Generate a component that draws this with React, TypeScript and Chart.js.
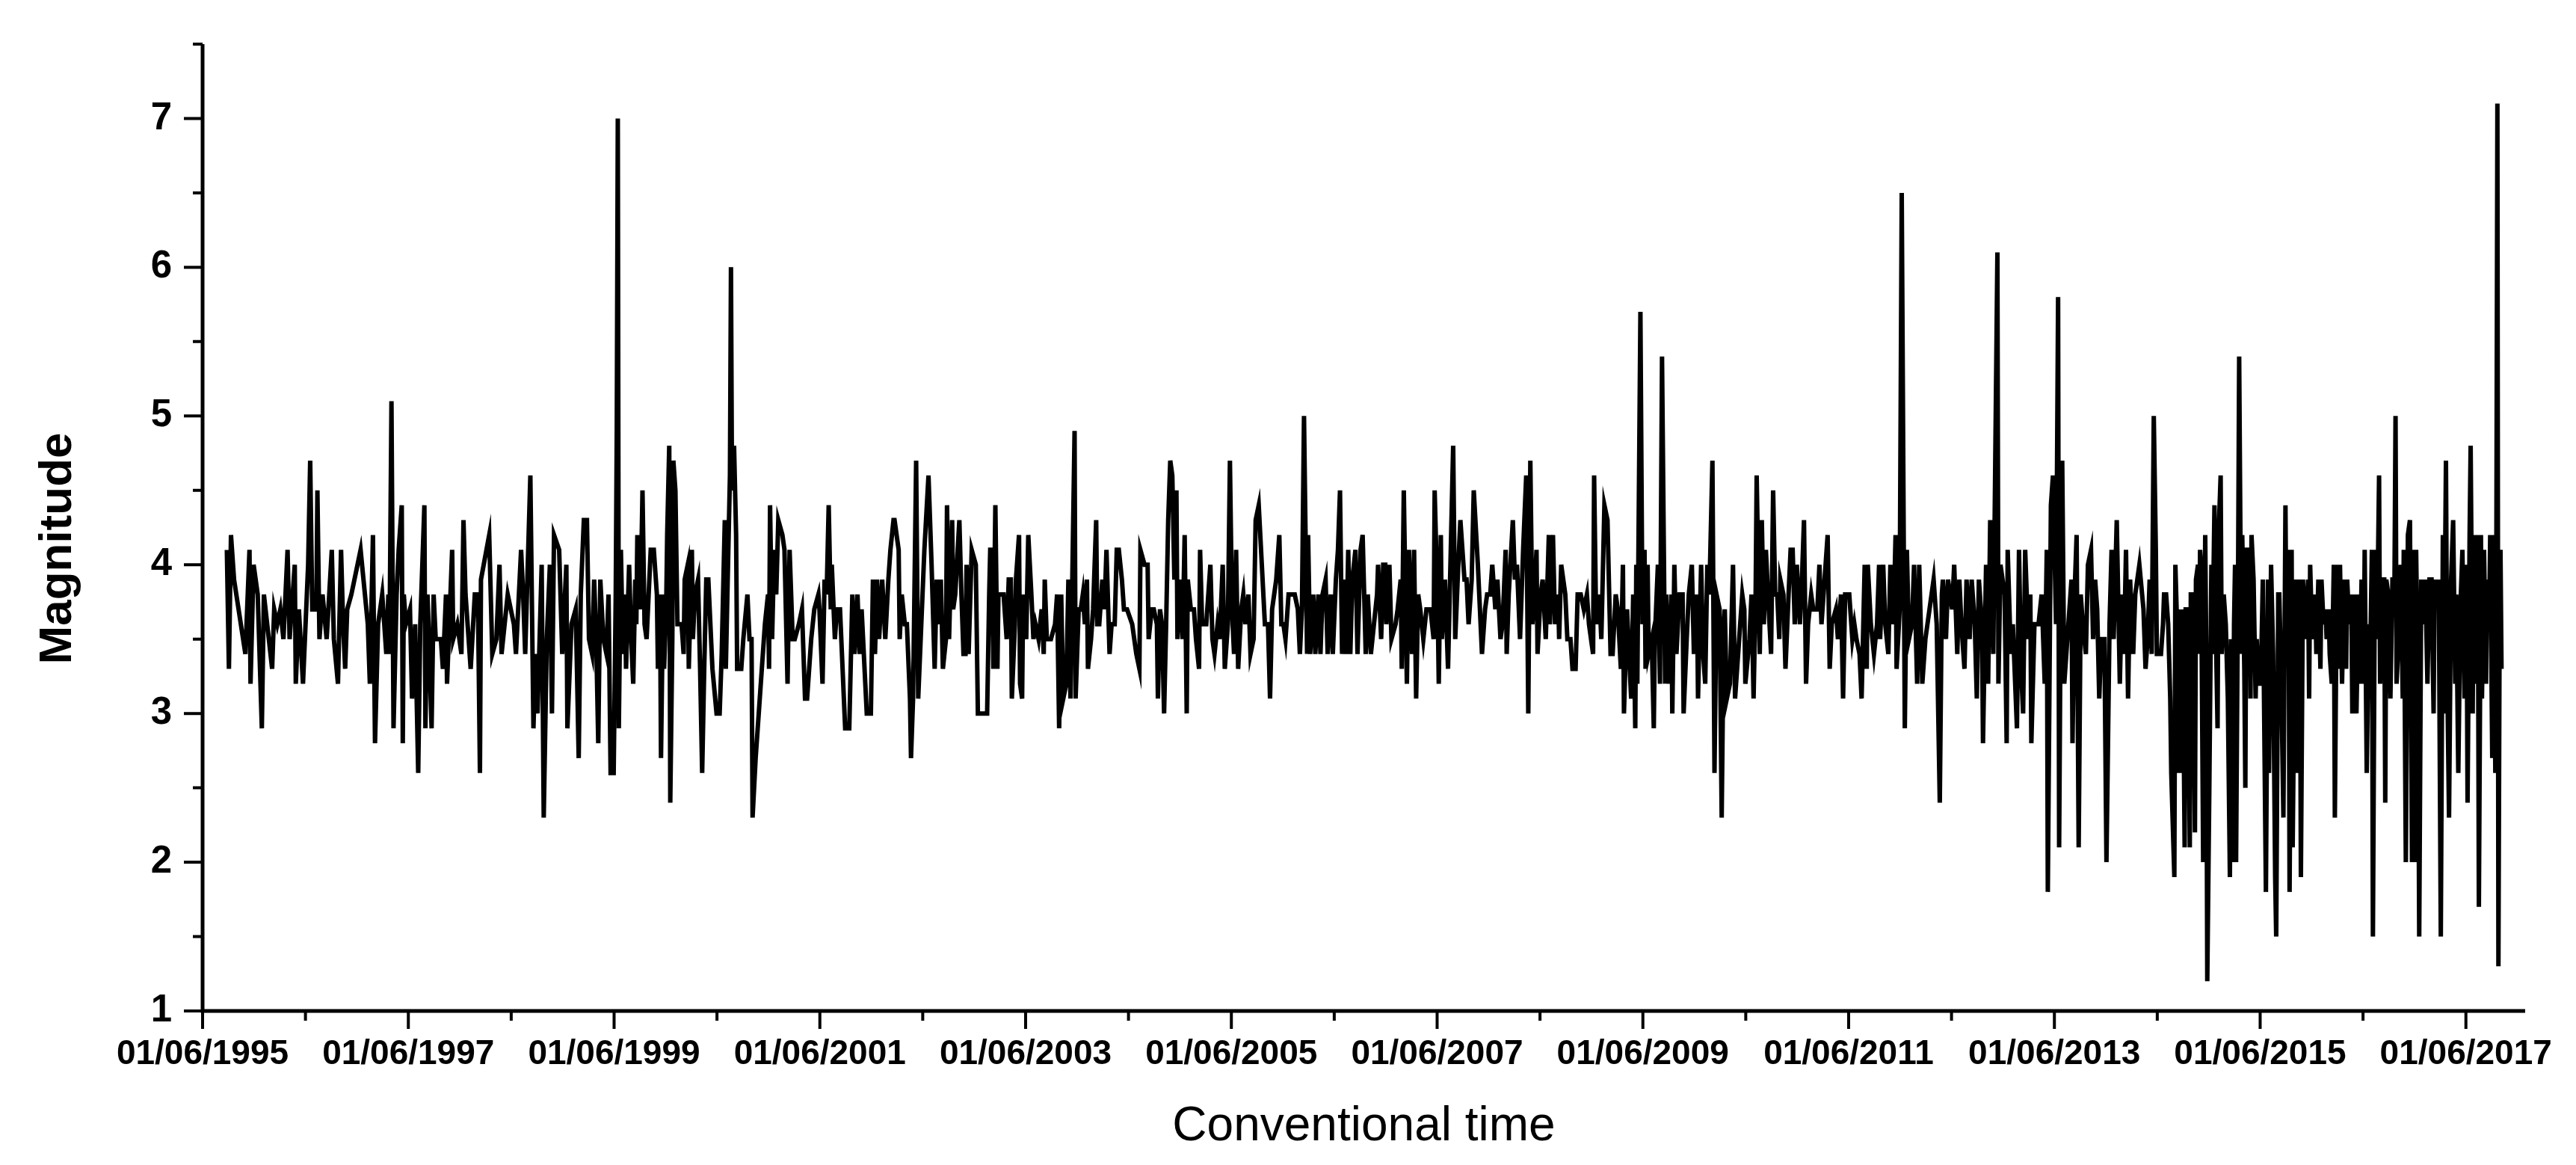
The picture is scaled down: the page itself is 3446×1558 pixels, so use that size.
import React, { useEffect, useRef } from 'react';
import { Chart, registerables } from 'chart.js';

Chart.register(...registerables);

// ---- Data: event time (decimal year) and magnitude ----
const years1995 = [
  1995.65, 1995.67, 1995.69, 1995.72, 1995.83, 1995.87, 1995.88, 1995.91, 1995.95, 1995.99,
  1996.01, 1996.09, 1996.11, 1996.14, 1996.17, 1996.20, 1996.24, 1996.26, 1996.31, 1996.32,
  1996.35, 1996.39, 1996.44, 1996.46, 1996.48, 1996.52, 1996.53, 1996.55, 1996.58, 1996.62,
  1996.67, 1996.69, 1996.73, 1996.76, 1996.78, 1996.80, 1996.82, 1996.86, 1996.95, 1997.02,
  1997.04, 1997.07, 1997.09, 1997.12, 1997.16, 1997.20, 1997.22, 1997.23, 1997.25, 1997.27,
  1997.30, 1997.32, 1997.35, 1997.36, 1997.37, 1997.39, 1997.43, 1997.45, 1997.48, 1997.51,
  1997.53, 1997.57, 1997.58, 1997.60, 1997.61, 1997.64, 1997.66, 1997.68, 1997.73, 1997.75,
  1997.78, 1997.79, 1997.84, 1997.85, 1997.89, 1997.93, 1997.95, 1997.97, 1998.02, 1998.06,
  1998.09, 1998.11, 1998.12, 1998.20, 1998.23, 1998.27, 1998.30, 1998.32, 1998.38, 1998.44,
  1998.46, 1998.51, 1998.53, 1998.55, 1998.60, 1998.63, 1998.65, 1998.67, 1998.71, 1998.73,
  1998.76, 1998.79, 1998.81, 1998.83, 1998.88, 1998.91, 1998.95, 1998.96, 1999.00, 1999.04,
  1999.05, 1999.07, 1999.09, 1999.12, 1999.15, 1999.17,
];
const mags1995 = [
  4.1, 3.3, 4.2, 3.9, 3.4, 4.1, 3.2, 4.0, 3.8, 2.9,
  3.8, 3.3, 3.7, 3.6, 3.7, 3.5, 4.1, 3.5, 4.0, 3.2,
  3.7, 3.2, 4.0, 4.7, 3.7, 3.7, 4.5, 3.5, 3.8, 3.5,
  4.1, 3.5, 3.2, 4.1, 3.6, 3.3, 3.7, 3.8, 4.1, 3.6,
  3.2, 4.2, 2.8, 3.6, 3.8, 3.4, 3.8, 3.4, 5.1, 2.9,
  3.8, 4.1, 4.4, 2.8, 3.8, 3.6, 3.7, 3.1, 3.6, 2.6,
  3.6, 4.4, 2.9, 3.8, 3.6, 2.9, 3.8, 3.5, 3.5, 3.3,
  3.8, 3.2, 4.1, 3.5, 3.6, 3.4, 4.3, 3.8, 3.3, 3.8,
  3.8, 2.6, 3.9, 4.2, 3.4, 3.5, 4.0, 3.4, 3.8, 3.6,
  3.4, 4.1, 3.8, 3.4, 4.6, 2.9, 3.4, 3.0, 4.0, 2.3,
  3.5, 4.0, 3.0, 4.2, 4.1, 3.4, 4.0, 2.9, 3.6, 3.7,
  3.4, 2.7, 3.8, 4.3, 4.3, 3.5,
];

const years1999 = [
  1999.20, 1999.22, 1999.24, 1999.26, 1999.28, 1999.31, 1999.34, 1999.36, 1999.38, 1999.41,
  1999.43, 1999.44, 1999.45, 1999.46, 1999.48, 1999.50, 1999.52, 1999.53, 1999.56, 1999.58,
  1999.60, 1999.62, 1999.63, 1999.64, 1999.67, 1999.69, 1999.71, 1999.73, 1999.77, 1999.80,
  1999.83, 1999.84, 1999.86, 1999.87, 1999.89, 1999.90, 1999.92, 1999.93, 1999.95, 1999.96,
  1999.98, 1999.99, 2000.01, 2000.03, 2000.07, 2000.09, 2000.10, 2000.13, 2000.14, 2000.17,
  2000.18, 2000.20, 2000.23, 2000.25, 2000.27, 2000.29, 2000.31, 2000.33, 2000.37, 2000.41,
  2000.44, 2000.46, 2000.49, 2000.50, 2000.54, 2000.55, 2000.56, 2000.58, 2000.60, 2000.61,
  2000.65, 2000.67, 2000.71, 2000.73, 2000.75, 2000.76, 2000.79, 2000.83, 2000.88, 2000.91,
  2000.92, 2000.93, 2000.95, 2000.97, 2000.99, 2001.01, 2001.05, 2001.07, 2001.10, 2001.12,
  2001.15, 2001.17, 2001.21, 2001.24, 2001.27, 2001.29, 2001.33, 2001.36, 2001.40, 2001.41,
  2001.44, 2001.46, 2001.48, 2001.50, 2001.52, 2001.53, 2001.56, 2001.58, 2001.61, 2001.66,
  2001.70, 2001.73, 2001.75, 2001.78, 2001.80, 2001.82, 2001.87, 2001.91, 2001.93, 2001.95,
  2001.97, 2001.99, 2002.02, 2002.05, 2002.08, 2002.10, 2002.13, 2002.14, 2002.18, 2002.19,
  2002.21, 2002.24, 2002.26, 2002.29, 2002.30, 2002.32, 2002.35, 2002.37, 2002.40, 2002.43,
  2002.47, 2002.50, 2002.53, 2002.55, 2002.56, 2002.59, 2002.61, 2002.64, 2002.65, 2002.67,
  2002.70, 2002.71, 2002.73, 2002.77, 2002.79, 2002.81, 2002.83, 2002.84, 2002.86, 2002.89,
  2002.93, 2002.95,
];
const mags1999 = [
  3.4, 3.9, 3.5, 2.8, 3.9, 3.5, 3.4, 3.8, 2.6, 2.6,
  3.8, 4.9, 7.0, 2.9, 4.1, 3.4, 3.8, 3.3, 4.0, 3.5,
  3.2, 3.9, 3.6, 4.2, 3.7, 4.5, 3.6, 3.5, 4.1, 4.1,
  3.8, 3.3, 3.8, 2.7, 3.8, 3.3, 3.7, 4.2, 4.8, 2.4,
  3.5, 4.7, 4.5, 3.6, 3.6, 3.4, 3.9, 4.0, 3.3, 4.1,
  3.5, 3.8, 3.9, 3.3, 2.6, 3.3, 3.9, 3.9, 3.3, 3.0,
  3.0, 3.4, 4.3, 3.3, 4.6, 6.0, 4.5, 4.8, 4.2, 3.3,
  3.3, 3.5, 3.8, 3.5, 3.5, 2.3, 2.7, 3.1, 3.6, 3.8,
  3.3, 4.4, 3.5, 4.1, 3.8, 4.3, 4.2, 4.1, 3.2, 4.1,
  3.5, 3.5, 3.6, 3.7, 3.1, 3.1, 3.5, 3.7, 3.8, 3.7,
  3.2, 3.9, 3.8, 4.4, 3.7, 4.0, 3.5, 3.7, 3.7, 2.9,
  2.9, 3.8, 3.4, 3.8, 3.4, 3.7, 3.0, 3.0, 3.9, 3.4,
  3.9, 3.5, 3.9, 3.5, 3.9, 4.1, 4.3, 4.3, 4.1, 3.5,
  3.8, 3.6, 3.6, 3.1, 2.7, 3.1, 4.7, 3.1, 3.6, 4.1,
  4.6, 4.0, 3.3, 3.9, 3.6, 3.9, 3.3, 3.5, 4.4, 3.5,
  4.3, 3.7, 3.8, 4.3, 3.8, 3.4, 3.4, 4.0, 3.4, 4.1,
  4.0, 3.0,
];

const years2003 = [
  2002.98, 2003.02, 2003.04, 2003.06, 2003.07, 2003.09, 2003.10, 2003.12, 2003.14, 2003.15,
  2003.18, 2003.20, 2003.23, 2003.25, 2003.27, 2003.28, 2003.31, 2003.32, 2003.35, 2003.36,
  2003.38, 2003.39, 2003.42, 2003.44, 2003.47, 2003.49, 2003.51, 2003.54, 2003.57, 2003.59,
  2003.60, 2003.62, 2003.66, 2003.70, 2003.72, 2003.74, 2003.76, 2003.78, 2003.81, 2003.83,
  2003.85, 2003.89, 2003.90, 2003.93, 2003.95, 2003.97, 2003.99, 2004.01, 2004.02, 2004.05,
  2004.07, 2004.10, 2004.11, 2004.13, 2004.16, 2004.18, 2004.20, 2004.23, 2004.25, 2004.28,
  2004.30, 2004.32, 2004.35, 2004.37, 2004.40, 2004.45, 2004.49, 2004.52, 2004.53, 2004.57,
  2004.60, 2004.61, 2004.64, 2004.66, 2004.69, 2004.70, 2004.72, 2004.74, 2004.76, 2004.78,
  2004.80, 2004.82, 2004.84, 2004.86, 2004.88, 2004.89, 2004.92, 2004.94, 2004.96, 2004.98,
  2004.99, 2005.02, 2005.05, 2005.07, 2005.10, 2005.11, 2005.13, 2005.17, 2005.21, 2005.23,
  2005.25, 2005.28, 2005.30, 2005.33, 2005.35, 2005.38, 2005.40, 2005.42, 2005.44, 2005.46,
  2005.48, 2005.51, 2005.53, 2005.55, 2005.58, 2005.60, 2005.63, 2005.65, 2005.68, 2005.71,
  2005.74, 2005.77, 2005.79, 2005.81, 2005.83, 2005.85, 2005.88, 2005.90, 2005.92, 2005.94,
  2005.97, 2006.00, 2006.03, 2006.06, 2006.08, 2006.10, 2006.12, 2006.15, 2006.16, 2006.18,
  2006.21, 2006.23, 2006.26, 2006.28, 2006.30, 2006.33, 2006.35, 2006.38, 2006.40, 2006.43,
  2006.45, 2006.47, 2006.49, 2006.51, 2006.53, 2006.55, 2006.57, 2006.59, 2006.62, 2006.64,
  2006.67, 2006.69, 2006.72, 2006.74,
];
const mags2003 = [
  3.0, 3.0, 3.0, 3.8, 4.1, 4.1, 3.3, 4.4, 3.3, 3.8,
  3.8, 3.8, 3.5, 3.9, 3.9, 3.1, 3.6, 3.9, 4.2, 3.2,
  3.1, 3.8, 3.5, 4.2, 3.8, 3.5, 3.6, 3.5, 3.7, 3.4,
  3.9, 3.5, 3.5, 3.6, 3.8, 2.9, 3.8, 3.1, 3.2, 3.9,
  3.1, 4.9, 3.1, 3.7, 3.7, 3.8, 3.6, 3.9, 3.3, 3.5,
  3.7, 4.3, 3.6, 3.6, 3.9, 3.7, 4.1, 3.4, 3.6, 3.6,
  4.1, 4.1, 3.9, 3.7, 3.7, 3.6, 3.4, 3.3, 4.1, 4.0,
  4.0, 3.5, 3.7, 3.7, 3.6, 3.1, 3.7, 3.6, 3.0, 3.6,
  4.3, 4.7, 4.6, 3.9, 4.5, 3.5, 3.9, 3.5, 4.2, 3.0,
  3.9, 3.7, 3.7, 3.5, 3.3, 4.1, 3.6, 3.6, 4.0, 3.5,
  3.4, 3.6, 3.5, 4.0, 3.3, 3.6, 4.7, 3.7, 3.4, 4.1,
  3.3, 3.7, 3.8, 3.6, 3.8, 3.4, 3.5, 4.3, 4.4, 4.0,
  3.6, 3.6, 3.1, 3.7, 3.8, 3.9, 4.2, 3.6, 3.6, 3.5,
  3.8, 3.8, 3.8, 3.7, 3.4, 3.7, 5.0, 3.4, 4.2, 3.4,
  3.8, 3.4, 3.8, 3.4, 3.8, 3.9, 3.4, 3.8, 3.4, 3.9,
  4.1, 4.5, 3.4, 3.9, 3.4, 4.1, 3.4, 3.9, 4.1, 3.4,
  4.1, 4.2, 3.4, 3.8,
];

const years2007 = [
  2006.77, 2006.80, 2006.83, 2006.84, 2006.87, 2006.89, 2006.91, 2006.92, 2006.95, 2006.97,
  2007.01, 2007.03, 2007.06, 2007.07, 2007.09, 2007.12, 2007.14, 2007.17, 2007.19, 2007.21,
  2007.23, 2007.25, 2007.28, 2007.31, 2007.35, 2007.38, 2007.39, 2007.42, 2007.43, 2007.45,
  2007.46, 2007.49, 2007.52, 2007.54, 2007.57, 2007.59, 2007.62, 2007.64, 2007.68, 2007.70,
  2007.72, 2007.75, 2007.77, 2007.81, 2007.83, 2007.85, 2007.88, 2007.90, 2007.93, 2007.95,
  2007.98, 2008.00, 2008.03, 2008.05, 2008.08, 2008.09, 2008.11, 2008.15, 2008.17, 2008.19,
  2008.22, 2008.25, 2008.28, 2008.30, 2008.32, 2008.34, 2008.36, 2008.38, 2008.39, 2008.42,
  2008.44, 2008.47, 2008.50, 2008.51, 2008.54, 2008.56, 2008.59, 2008.60, 2008.62, 2008.66,
  2008.68, 2008.71, 2008.73, 2008.76, 2008.78, 2008.81, 2008.84, 2008.87, 2008.89, 2008.93,
  2008.94, 2008.96, 2008.99, 2009.01, 2009.04, 2009.07, 2009.10, 2009.12, 2009.15, 2009.17,
  2009.20, 2009.22, 2009.23, 2009.26, 2009.28, 2009.30, 2009.32, 2009.34, 2009.35, 2009.36,
  2009.39, 2009.41, 2009.43, 2009.44, 2009.46, 2009.47, 2009.50, 2009.52, 2009.53, 2009.56,
  2009.58, 2009.60, 2009.63, 2009.64, 2009.67, 2009.69, 2009.70, 2009.72, 2009.74, 2009.77,
  2009.80, 2009.81, 2009.84, 2009.86, 2009.89, 2009.91, 2009.94, 2009.95, 2009.98, 2010.00,
  2010.02, 2010.04, 2010.06, 2010.09, 2010.11, 2010.13, 2010.16, 2010.18, 2010.20, 2010.21,
  2010.23, 2010.26, 2010.29, 2010.31, 2010.32, 2010.36, 2010.38, 2010.40, 2010.41, 2010.45,
  2010.47, 2010.49, 2010.51, 2010.52,
];
const mags2007 = [
  3.4, 3.6, 3.8, 4.0, 3.5, 4.0, 4.0, 3.6, 4.0, 3.5,
  3.6, 3.7, 3.9, 3.3, 4.5, 3.2, 4.1, 3.4, 4.1, 3.1,
  3.8, 3.7, 3.5, 3.7, 3.7, 3.5, 4.5, 3.7, 3.2, 4.2,
  3.5, 3.9, 3.3, 3.9, 4.8, 3.5, 4.0, 4.3, 3.9, 3.9,
  3.6, 3.9, 4.5, 4.0, 3.7, 3.4, 3.7, 3.8, 3.8, 4.0,
  3.7, 3.9, 3.5, 3.6, 4.1, 3.4, 3.8, 4.3, 3.9, 4.0,
  3.5, 4.1, 4.6, 3.0, 4.7, 3.6, 3.8, 4.1, 3.4, 3.8,
  3.9, 3.5, 4.2, 3.6, 4.2, 3.6, 3.8, 3.5, 4.0, 3.8,
  3.5, 3.5, 3.3, 3.3, 3.8, 3.8, 3.7, 3.8, 3.6, 3.4,
  4.6, 3.6, 3.8, 3.5, 4.4, 4.3, 3.4, 3.4, 3.8, 3.7,
  3.3, 4.0, 3.0, 3.7, 3.4, 3.1, 3.8, 2.9, 4.0, 3.2,
  5.7, 3.6, 4.1, 3.3, 4.0, 3.4, 3.5, 2.9, 3.5, 4.0,
  3.2, 5.4, 3.2, 3.8, 3.2, 3.8, 3.0, 4.0, 3.4, 3.8,
  3.8, 3.0, 3.5, 3.8, 4.0, 3.4, 3.8, 3.1, 4.0, 3.4,
  3.2, 4.0, 3.8, 4.7, 2.6, 3.8, 3.7, 2.3, 3.6, 3.7,
  3.1, 3.2, 4.0, 3.1, 3.2, 3.6, 3.8, 3.7, 3.2, 3.5,
  3.8, 3.1, 3.8, 4.6,
];

const years2011 = [
  2010.55, 2010.57, 2010.59, 2010.61, 2010.63, 2010.66, 2010.68, 2010.70, 2010.72, 2010.74,
  2010.75, 2010.78, 2010.80, 2010.83, 2010.85, 2010.87, 2010.89, 2010.91, 2010.94, 2010.96,
  2010.98, 2011.00, 2011.02, 2011.05, 2011.07, 2011.11, 2011.13, 2011.15, 2011.17, 2011.21,
  2011.23, 2011.25, 2011.29, 2011.31, 2011.34, 2011.36, 2011.38, 2011.42, 2011.45, 2011.47,
  2011.49, 2011.52, 2011.54, 2011.57, 2011.59, 2011.60, 2011.63, 2011.66, 2011.69, 2011.71,
  2011.72, 2011.75, 2011.77, 2011.80, 2011.82, 2011.85, 2011.87, 2011.88, 2011.91, 2011.93,
  2011.96, 2011.98, 2012.00, 2012.03, 2012.05, 2012.08, 2012.10, 2012.13, 2012.16, 2012.20,
  2012.24, 2012.27, 2012.30, 2012.32, 2012.33, 2012.36, 2012.38, 2012.42, 2012.44, 2012.47,
  2012.49, 2012.51, 2012.54, 2012.56, 2012.59, 2012.61, 2012.64, 2012.66, 2012.68, 2012.71,
  2012.72, 2012.75, 2012.77, 2012.79, 2012.82, 2012.86, 2012.87, 2012.89, 2012.93, 2012.95,
  2012.96, 2012.99, 2013.01, 2013.05, 2013.07, 2013.09, 2013.11, 2013.13, 2013.16, 2013.18,
  2013.19, 2013.22, 2013.26, 2013.29, 2013.32, 2013.34, 2013.35, 2013.38, 2013.40, 2013.43,
  2013.45, 2013.46, 2013.47, 2013.49, 2013.51, 2013.53, 2013.56, 2013.58, 2013.59, 2013.61,
  2013.63, 2013.65, 2013.67, 2013.69, 2013.72, 2013.74, 2013.77, 2013.79, 2013.81, 2013.83,
  2013.85, 2013.87, 2013.90, 2013.92, 2013.95, 2013.97, 2013.99, 2014.02, 2014.05, 2014.07,
  2014.09, 2014.11, 2014.13, 2014.15, 2014.18, 2014.20, 2014.24, 2014.28, 2014.30,
];
const mags2011 = [
  3.4, 4.3, 3.6, 4.1, 3.8, 3.4, 4.5, 3.8, 3.8, 3.5,
  3.9, 3.8, 3.3, 3.8, 4.1, 4.1, 3.6, 4.0, 3.6, 3.9,
  4.3, 3.2, 3.6, 3.8, 3.7, 3.7, 4.0, 3.6, 3.8, 4.2,
  3.3, 3.6, 3.7, 3.5, 3.8, 3.1, 3.8, 3.8, 3.5, 3.6,
  3.5, 3.4, 3.1, 4.0, 3.3, 4.0, 3.6, 3.4, 3.6, 4.0,
  3.5, 4.0, 3.6, 3.4, 4.0, 3.6, 4.2, 3.3, 3.7, 6.5,
  2.9, 4.1, 3.5, 3.6, 4.0, 3.2, 4.0, 3.2, 3.5, 3.7,
  3.9, 3.6, 2.4, 3.8, 3.9, 3.5, 3.9, 3.7, 4.0, 3.4,
  3.9, 3.6, 3.3, 3.9, 3.5, 3.9, 3.6, 3.1, 3.9, 3.6,
  2.8, 4.0, 3.2, 4.3, 3.4, 6.1, 3.2, 4.0, 3.8, 2.8,
  4.1, 3.4, 3.6, 2.9, 4.1, 3.3, 3.0, 4.1, 3.5, 3.8,
  2.8, 3.6, 3.6, 3.8, 3.2, 4.1, 1.8, 4.4, 4.6, 3.6,
  5.8, 2.1, 3.2, 4.7, 3.2, 3.4, 3.7, 3.9, 2.8, 3.8,
  4.2, 2.1, 3.8, 3.6, 3.4, 4.0, 4.1, 3.5, 3.9, 3.7,
  3.1, 3.5, 3.5, 2.0, 3.6, 4.1, 3.5, 4.3, 3.2, 3.8,
  3.4, 4.1, 3.1, 3.9, 3.4, 3.8, 4.0, 3.7, 3.3,
];

const years2014 = [
  2014.32, 2014.34, 2014.36, 2014.37, 2014.38, 2014.40, 2014.41, 2014.43, 2014.45, 2014.47,
  2014.48, 2014.50, 2014.52, 2014.54, 2014.55, 2014.58, 2014.59, 2014.61, 2014.62, 2014.64,
  2014.65, 2014.66, 2014.68, 2014.69, 2014.71, 2014.73, 2014.74, 2014.76, 2014.78, 2014.79,
  2014.81, 2014.82, 2014.83, 2014.84, 2014.86, 2014.88, 2014.89, 2014.90, 2014.92, 2014.94,
  2014.95, 2014.97, 2014.98, 2015.00, 2015.01, 2015.03, 2015.04, 2015.06, 2015.08, 2015.10,
  2015.12, 2015.13, 2015.15, 2015.16, 2015.17, 2015.18, 2015.20, 2015.21, 2015.23, 2015.24,
  2015.26, 2015.27, 2015.28, 2015.31, 2015.32, 2015.33, 2015.35, 2015.37, 2015.38, 2015.40,
  2015.42, 2015.44, 2015.47, 2015.49, 2015.50, 2015.52, 2015.54, 2015.56, 2015.57, 2015.59,
  2015.60, 2015.62, 2015.64, 2015.66, 2015.67, 2015.69, 2015.70, 2015.72, 2015.73, 2015.75,
  2015.76, 2015.78, 2015.80, 2015.81, 2015.83, 2015.85, 2015.88, 2015.89, 2015.90, 2015.92,
  2015.93, 2015.95, 2015.96, 2015.98, 2016.00, 2016.01, 2016.03, 2016.05, 2016.06, 2016.08,
  2016.09, 2016.11, 2016.13, 2016.14, 2016.16, 2016.18, 2016.19, 2016.21, 2016.23, 2016.25,
  2016.26, 2016.28, 2016.30, 2016.31, 2016.33, 2016.35, 2016.37, 2016.38, 2016.40, 2016.42,
  2016.43, 2016.45, 2016.47, 2016.48, 2016.50, 2016.51, 2016.53, 2016.55, 2016.57, 2016.58,
  2016.60, 2016.62, 2016.63, 2016.64, 2016.66, 2016.68, 2016.70, 2016.72, 2016.73, 2016.74,
  2016.76, 2016.78, 2016.80, 2016.81, 2016.83, 2016.85, 2016.87, 2016.89, 2016.90, 2016.92,
  2016.93, 2016.95, 2016.96, 2016.98, 2016.99, 2017.00, 2017.02, 2017.04, 2017.06, 2017.08,
  2017.10, 2017.11, 2017.13, 2017.15, 2017.17, 2017.19, 2017.20, 2017.22, 2017.23, 2017.25,
  2017.27, 2017.29, 2017.31, 2017.32, 2017.34, 2017.36, 2017.38, 2017.40, 2017.42, 2017.43,
  2017.45, 2017.46, 2017.48, 2017.49, 2017.51, 2017.53, 2017.54, 2017.56, 2017.57, 2017.59,
  2017.61, 2017.62, 2017.64, 2017.65, 2017.67, 2017.68, 2017.70, 2017.71, 2017.72, 2017.73,
  2017.74, 2017.75, 2017.76,
];
const mags2014 = [
  3.5, 3.9, 3.4, 4.2, 5.0, 4.1, 3.4, 3.4, 3.4, 3.6,
  3.8, 3.8, 3.6, 3.1, 2.6, 1.9, 4.0, 3.5, 2.6, 3.7,
  2.6, 3.7, 2.1, 3.7, 3.7, 2.1, 3.8, 3.8, 2.2, 3.9,
  4.0, 3.4, 4.1, 4.0, 2.0, 4.2, 3.4, 1.2, 2.5, 4.0,
  3.4, 4.4, 3.7, 2.9, 4.2, 4.6, 3.4, 3.8, 3.6, 3.1,
  1.9, 3.5, 2.0, 3.6, 4.0, 2.0, 4.0, 5.4, 3.4, 4.2,
  3.3, 2.5, 4.1, 4.1, 3.1, 4.2, 3.9, 3.1, 3.5, 3.2,
  3.2, 3.9, 1.8, 3.9, 2.6, 4.0, 3.4, 1.9, 1.5, 3.8,
  3.8, 3.2, 2.3, 4.4, 3.4, 4.1, 1.8, 4.1, 2.1, 3.5,
  3.9, 2.6, 3.9, 1.9, 3.9, 3.5, 3.9, 3.1, 4.0, 3.5,
  3.6, 3.8, 3.4, 3.9, 3.3, 3.9, 3.6, 3.7, 3.5, 3.7,
  3.4, 3.2, 4.0, 2.3, 4.0, 3.3, 4.0, 3.2, 3.9, 3.3,
  3.9, 3.6, 3.8, 3.0, 3.8, 3.0, 3.8, 3.2, 3.9, 3.2,
  4.1, 2.6, 3.6, 3.2, 4.1, 1.5, 4.1, 3.5, 4.6, 3.2,
  3.9, 3.9, 2.4, 3.9, 3.8, 3.1, 3.9, 3.9, 5.0, 3.2,
  3.5, 4.0, 3.1, 4.1, 2.0, 4.2, 4.3, 2.0, 4.1, 2.0,
  4.1, 3.1, 1.5, 3.9, 3.8, 3.6, 3.9, 3.2, 3.9, 3.9,
  3.0, 3.9, 3.7, 3.9, 1.5, 4.2, 3.0, 4.7, 3.4, 2.3,
  3.9, 4.3, 3.2, 3.8, 2.6, 3.7, 4.1, 3.1, 4.0, 2.4,
  4.2, 4.8, 3.0, 4.2, 3.2, 4.2, 1.7, 4.2, 3.1, 4.1,
  3.2, 3.9, 3.6, 4.2, 2.7, 4.2, 2.6, 4.1, 7.1, 1.3,
  3.3, 4.1, 3.3,
];

// ---- Axes ----
const xTickYears = [1995, 1997, 1999, 2001, 2003, 2005, 2007, 2009, 2011, 2013, 2015, 2017];
const xTickLabels = [
  '01/06/1995', '01/06/1997', '01/06/1999', '01/06/2001', '01/06/2003', '01/06/2005',
  '01/06/2007', '01/06/2009', '01/06/2011', '01/06/2013', '01/06/2015', '01/06/2017',
];
const yTickValues = [1, 2, 3, 4, 5, 6, 7];
const xAxisTitle = 'Conventional time';
const yAxisTitle = 'Magnitude';
const JUNE_FIRST = 0.414; // 1 June as fraction of year
const X_MIN = 1995 + JUNE_FIRST;
const X_MAX = 2017.99;
const Y_MIN = 1;
const Y_MAX = 7.5;

const FONT = '"Liberation Sans", Arial, Helvetica, sans-serif';

const yearSegments = [years1995, years1999, years2003, years2007, years2011, years2014];
const magSegments = [mags1995, mags1999, mags2003, mags2007, mags2011, mags2014];

function buildPoints() {
  const pts: { x: number; y: number }[] = [];
  for (let s = 0; s < yearSegments.length; s++) {
    const ys = yearSegments[s];
    const ms = magSegments[s];
    const n = Math.min(ys.length, ms.length);
    for (let i = 0; i < n; i++) pts.push({ x: ys[i], y: ms[i] });
  }
  return pts;
}

// Origin-style axis lines, major/minor ticks and the y-axis title
const originAxes = {
  id: 'originAxes',
  afterDatasetsDraw(chart: any) {
    const { ctx } = chart;
    const xs = chart.scales.x;
    const ys = chart.scales.y;
    const left = xs.getPixelForValue(X_MIN);
    const right = xs.getPixelForValue(X_MAX);
    const bottom = ys.getPixelForValue(Y_MIN);
    const top = ys.getPixelForValue(Y_MAX);
    ctx.save();
    ctx.strokeStyle = '#000';
    ctx.lineWidth = 5;
    ctx.lineCap = 'butt';
    ctx.beginPath();
    ctx.moveTo(left, top);
    ctx.lineTo(left, bottom + 2.5);
    ctx.moveTo(left - 2.5, bottom);
    ctx.lineTo(right, bottom);
    ctx.stroke();
    ctx.lineWidth = 4;
    ctx.beginPath();
    xs.ticks.forEach((t: any, i: number) => {
      const px = xs.getPixelForValue(t.value);
      const len = i % 2 === 0 ? 24 : 13;
      ctx.moveTo(px, bottom);
      ctx.lineTo(px, bottom + len);
    });
    ys.ticks.forEach((t: any) => {
      const py = ys.getPixelForValue(t.value);
      const len = Number.isInteger(t.value) ? 25 : 13;
      ctx.moveTo(left, py);
      ctx.lineTo(left - len, py);
    });
    ctx.stroke();

    // y-axis title (slightly below the axis centre, as in the original)
    ctx.fillStyle = '#000';
    ctx.font = `bold 62px ${FONT}`;
    ctx.textAlign = 'center';
    ctx.textBaseline = 'middle';
    ctx.translate(78, (top + bottom) / 2 + 28);
    ctx.rotate(-Math.PI / 2);
    ctx.fillText(yAxisTitle, 0, 0);
    ctx.restore();
  },
};

export default function App() {
  const ref = useRef<HTMLCanvasElement | null>(null);

  useEffect(() => {
    if (!ref.current) return;
    const chart = new Chart(ref.current, {
      type: 'line',
      data: {
        datasets: [
          {
            label: 'Magnitude',
            data: buildPoints(),
            borderColor: '#000',
            backgroundColor: '#000',
            borderWidth: 6,
            pointRadius: 0,
            tension: 0,
            fill: false,
          },
        ],
      },
      options: {
        animation: false,
        responsive: false,
        devicePixelRatio: 1,
        parsing: false,
        events: [],
        layout: { padding: { top: 59, right: 68, bottom: 0, left: 0 } },
        plugins: { legend: { display: false }, tooltip: { enabled: false } },
        scales: {
          x: {
            type: 'linear',
            min: X_MIN,
            max: X_MAX,
            grid: { display: false, drawTicks: true, tickLength: 24 },
            border: { display: false },
            afterBuildTicks: (scale: any) => {
              const t: { value: number }[] = [];
              xTickYears.forEach((yr, i) => {
                t.push({ value: yr + JUNE_FIRST });
                if (i < xTickYears.length - 1) t.push({ value: yr + 1 + JUNE_FIRST });
              });
              scale.ticks = t;
            },
            afterFit: (scale: any) => {
              scale.height = 206;
              scale.paddingLeft = 0;
              scale.paddingRight = 0;
            },
            ticks: {
              autoSkip: false,
              maxRotation: 0,
              minRotation: 0,
              padding: 7,
              color: '#000',
              font: { family: FONT, size: 46, weight: 'bold' },
              callback: (_v: any, i: number) => (i % 2 === 0 ? xTickLabels[i / 2] : ''),
            },
            title: {
              display: true,
              text: xAxisTitle,
              color: '#000',
              font: { family: FONT, size: 64, weight: 'normal' },
              padding: { top: 0, bottom: 12 },
            },
          },
          y: {
            type: 'linear',
            min: Y_MIN,
            max: Y_MAX,
            grid: { display: false, drawTicks: true, tickLength: 25 },
            border: { display: false },
            afterBuildTicks: (scale: any) => {
              const t: { value: number }[] = [];
              yTickValues.forEach((v) => {
                t.push({ value: v });
                t.push({ value: v + 0.5 });
              });
              scale.ticks = t;
            },
            afterFit: (scale: any) => {
              scale.width = 271;
              scale.paddingTop = 0;
              scale.paddingBottom = 0;
            },
            ticks: {
              autoSkip: false,
              padding: 16,
              color: '#000',
              font: { family: FONT, size: 51, weight: 'bold' },
              callback: (v: any) => (Number.isInteger(v) ? String(v) : ''),
            },
            title: { display: false, text: yAxisTitle },
          },
        },
      },
      plugins: [originAxes],
    } as any);
    return () => chart.destroy();
  }, []);

  return (
    <div style={{ position: 'absolute', left: 0, top: 0, width: 3446, height: 1558, background: '#fff' }}>
      <canvas ref={ref} width={3446} height={1558} style={{ display: 'block', width: 3446, height: 1558 }} />
    </div>
  );
}
